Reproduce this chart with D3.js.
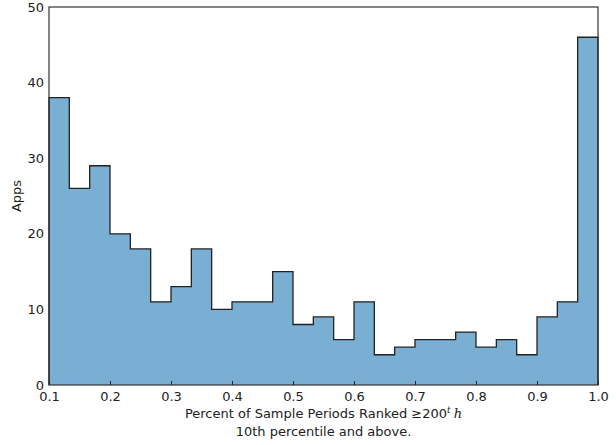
<!DOCTYPE html>
<html>
<head>
<meta charset="utf-8">
<script src="https://cdn.jsdelivr.net/npm/d3@7"></script>
<style>
  body { margin: 0; background: #fff; }
  svg text { font-family: "DejaVu Sans", sans-serif; fill: #222; }
</style>
</head>
<body>
<div id="chart"></div>
<script>
// histogram bins: 27 equal bins from 0.1 to 1.0
const binStart = 0.1;
const binEnd = 1.0;
const counts = [38, 26, 29, 20, 18, 11, 13, 18, 10, 11, 11, 15, 8, 9, 6, 11, 4, 5, 6, 6, 7, 5, 6, 4, 9, 11, 46];
const xTicks = [0.1, 0.2, 0.3, 0.4, 0.5, 0.6, 0.7, 0.8, 0.9, 1.0];
const yTicks = [0, 10, 20, 30, 40, 50];

const width = 616, height = 445;
const margin = {top: 7, right: 18, bottom: 60, left: 49};

const svg = d3.select('#chart').append('svg')
    .attr('width', width)
    .attr('height', height);

const x = d3.scaleLinear()
    .domain([binStart, binEnd])
    .range([margin.left, width - margin.right]);
const y = d3.scaleLinear()
    .domain([0, 50])
    .range([height - margin.bottom, margin.top]);

// step points, last point repeated at the right edge
const binW = (binEnd - binStart) / counts.length;
const steps = counts.map((c, i) => ({x: binStart + i * binW, y: c}));
steps.push({x: binEnd, y: counts[counts.length - 1]});

const area = d3.area()
    .x(d => x(d.x))
    .y0(y(0))
    .y1(d => y(d.y))
    .curve(d3.curveStepAfter);

svg.append('path')
    .datum(steps)
    .attr('d', area)
    .attr('fill', '#7aafd4');

// outline: up from zero, steps, down to zero
const outline = [{x: binStart, y: 0}].concat(steps, [{x: binEnd, y: 0}]);
const line = d3.line()
    .x(d => x(d.x))
    .y(d => y(d.y))
    .curve(d3.curveStepAfter);
svg.append('path')
    .datum(outline)
    .attr('d', line)
    .attr('fill', 'none')
    .attr('stroke', '#222')
    .attr('stroke-width', 1.3);

// frame
svg.append('rect')
    .attr('x', x(binStart))
    .attr('y', y(50))
    .attr('width', x(binEnd) - x(binStart))
    .attr('height', y(0) - y(50))
    .attr('fill', 'none')
    .attr('stroke', '#333')
    .attr('stroke-width', 1.2);

// x axis: inward ticks, labels below
const xAxis = d3.axisBottom(x)
    .tickValues(xTicks)
    .tickFormat(d3.format('.1f'))
    .tickSizeInner(-4)
    .tickSizeOuter(0)
    .tickPadding(7);
const gx = svg.append('g')
    .attr('transform', 'translate(0,' + y(0) + ')')
    .call(xAxis);
gx.select('.domain').remove();
gx.selectAll('line').attr('stroke', '#222');
gx.selectAll('text').attr('font-size', 13).attr('fill', '#222');

const yAxis = d3.axisLeft(y)
    .tickValues(yTicks)
    .tickSize(0)
    .tickPadding(5);
const gy = svg.append('g')
    .attr('transform', 'translate(' + x(binStart) + ',0)')
    .call(yAxis);
gy.select('.domain').remove();
gy.selectAll('text').attr('font-size', 13).attr('fill', '#222');

// labels
const cx = (x(binStart) + x(binEnd)) / 2;
const xl = svg.append('text')
    .attr('x', cx)
    .attr('y', 418)
    .attr('text-anchor', 'middle')
    .attr('font-size', 13);
xl.append('tspan').text('Percent of Sample Periods Ranked \u2265200');
xl.append('tspan')
    .attr('font-family', 'DejaVu Serif, serif')
    .attr('font-style', 'italic')
    .attr('font-size', 9)
    .attr('dy', -5)
    .text('t');
xl.append('tspan')
    .attr('font-family', 'DejaVu Serif, serif')
    .attr('font-style', 'italic')
    .attr('dy', 5)
    .attr('dx', 3)
    .text('h');

svg.append('text')
    .attr('x', cx)
    .attr('y', 436)
    .attr('text-anchor', 'middle')
    .attr('font-size', 13)
    .text('10th percentile and above.');

svg.append('text')
    .attr('transform', 'translate(21,' + ((y(0) + y(50)) / 2) + ') rotate(-90)')
    .attr('text-anchor', 'middle')
    .attr('font-size', 13)
    .text('Apps');
</script>
</body>
</html>
